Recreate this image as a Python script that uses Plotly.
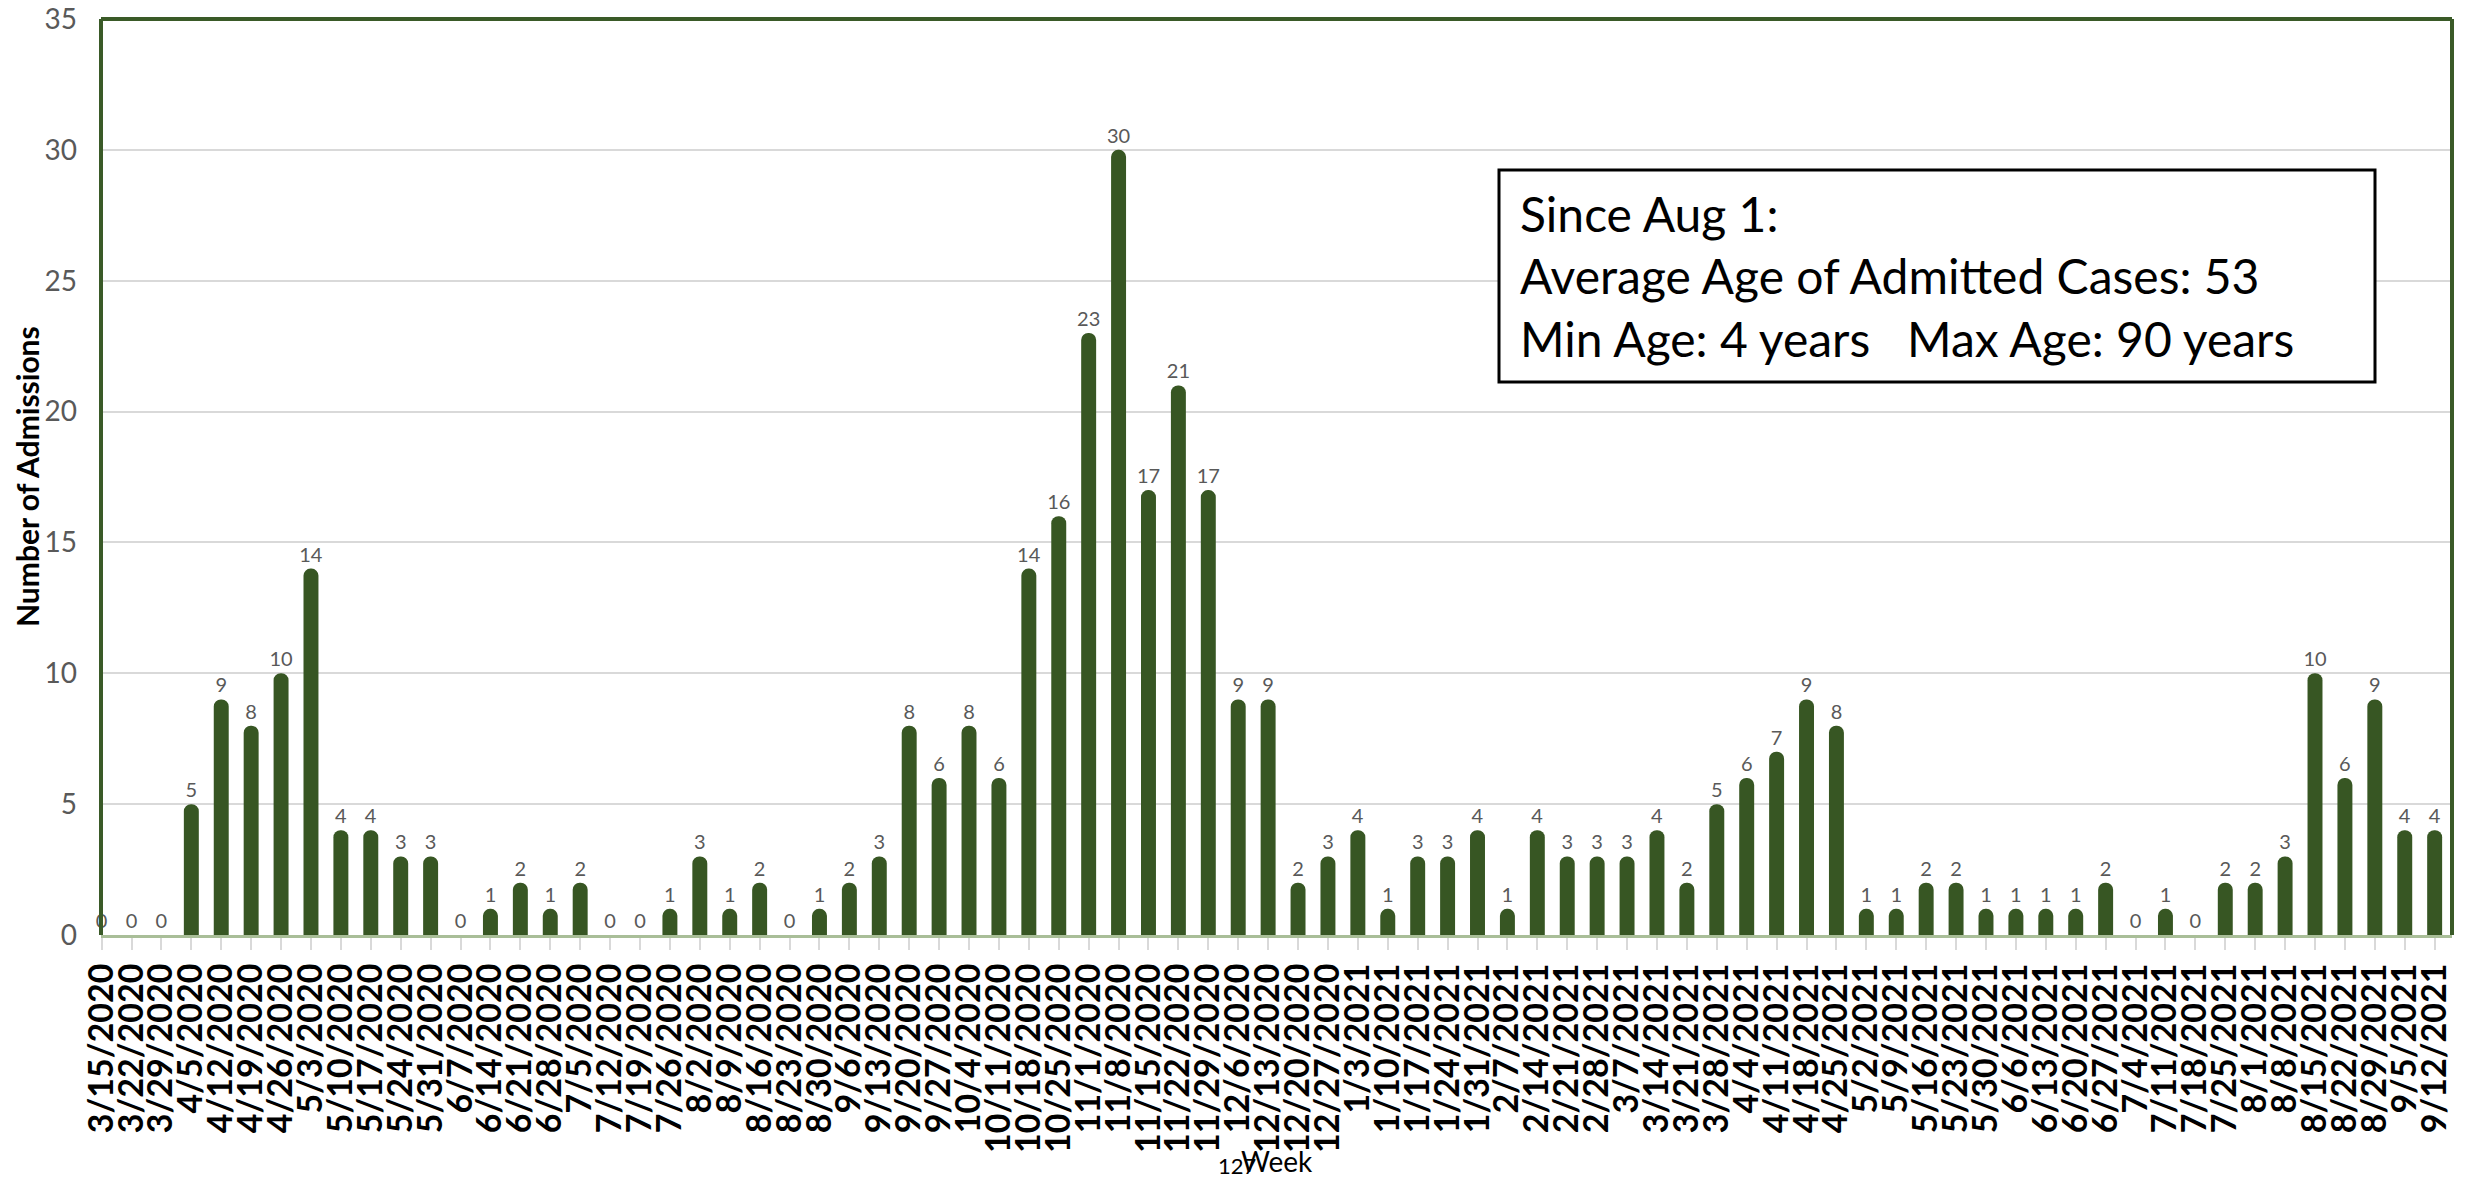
import plotly.graph_objects as go

weeks = ["3/15/2020", "3/22/2020", "3/29/2020", "4/5/2020", "4/12/2020", "4/19/2020", "4/26/2020",
         "5/3/2020", "5/10/2020", "5/17/2020", "5/24/2020", "5/31/2020", "6/7/2020", "6/14/2020",
         "6/21/2020", "6/28/2020", "7/5/2020", "7/12/2020", "7/19/2020", "7/26/2020", "8/2/2020",
         "8/9/2020", "8/16/2020", "8/23/2020", "8/30/2020", "9/6/2020", "9/13/2020", "9/20/2020",
         "9/27/2020", "10/4/2020", "10/11/2020", "10/18/2020", "10/25/2020", "11/1/2020", "11/8/2020",
         "11/15/2020", "11/22/2020", "11/29/2020", "12/6/2020", "12/13/2020", "12/20/2020", "12/27/2020",
         "1/3/2021", "1/10/2021", "1/17/2021", "1/24/2021", "1/31/2021", "2/7/2021", "2/14/2021",
         "2/21/2021", "2/28/2021", "3/7/2021", "3/14/2021", "3/21/2021", "3/28/2021", "4/4/2021",
         "4/11/2021", "4/18/2021", "4/25/2021", "5/2/2021", "5/9/2021", "5/16/2021", "5/23/2021",
         "5/30/2021", "6/6/2021", "6/13/2021", "6/20/2021", "6/27/2021", "7/4/2021", "7/11/2021",
         "7/18/2021", "7/25/2021", "8/1/2021", "8/8/2021", "8/15/2021", "8/22/2021", "8/29/2021",
         "9/5/2021", "9/12/2021"]

admissions = [0, 0, 0, 5, 9, 8, 10,
              14, 4, 4, 3, 3, 0, 1,
              2, 1, 2, 0, 0, 1, 3,
              1, 2, 0, 1, 2, 3, 8,
              6, 8, 6, 14, 16, 23, 30,
              17, 21, 17, 9, 9, 2, 3,
              4, 1, 3, 3, 4, 1, 4,
              3, 3, 3, 4, 2, 5, 6,
              7, 9, 8, 1, 1, 2, 2,
              1, 1, 1, 1, 2, 0, 1,
              0, 2, 2, 3, 10, 6, 9,
              4, 4]

y_ticks = [0, 5, 10, 15, 20, 25, 30, 35]
box_lines = ["Since Aug 1:", "Average Age of Admitted Cases: 53", "Min Age: 4 years   Max Age: 90 years"]

# page coordinates of the plot area (the page body adds an 8 px margin)
OFF = 8
W, H = 2466 - 2 * OFF, 1186 - 2 * OFF
L, R, T, B = 101, 2452, 19, 935

def px(xp):
    return (xp - L) / (R - L)

def py(yp):
    return (B - yp) / (B - T)

BAR = "#375623"
FRAME = "#3A5A28"
FONT = "Lato"

fig = go.Figure()
fig.add_trace(go.Bar(
    x=weeks, y=admissions,
    width=0.5,
    marker=dict(color=BAR, line=dict(width=0), cornerradius=7),
    text=[str(v) for v in admissions],
    textposition="outside",
    constraintext="none",
    textfont=dict(family=FONT, size=20, color="#595959"),
    cliponaxis=False,
    hoverinfo="x+y",
))

fig.update_layout(
    width=W, height=H,
    margin=dict(l=L - OFF, r=W - (R - OFF), t=T - OFF, b=H - (B - OFF), autoexpand=False),
    plot_bgcolor="white", paper_bgcolor="white",
    showlegend=False,
    bargap=0.5,
    font=dict(family=FONT),
)

fig.update_xaxes(
    type="category",
    range=[-0.02, 78.58],
    tickmode="linear", tick0=0, dtick=1,
    tickangle=-90,
    tickfont=dict(family=FONT, size=34, color="black", weight="bold"),
    ticks="outside", ticklen=12, tickwidth=2, tickcolor="#D9D9D9",
    showline=True, linecolor="#A9BE98", linewidth=3,
    showgrid=False, zeroline=False, automargin=False,
    ticklabeloverflow="allow",
)

fig.update_yaxes(
    range=[0, 35],
    tickmode="array", tickvals=y_ticks,
    tickfont=dict(family=FONT, size=28, color="#595959"),
    ticklabelstandoff=23,
    ticklabeloverflow="allow",
    showgrid=True, gridcolor="#D9D9D9", gridwidth=2,
    zeroline=False, showline=False, ticks="", automargin=False,
)

# frame (left, top, right) in dark green
for x0, y0, x1, y1 in [(0, 0, 0, 1), (0, 1, 1, 1), (1, 0, 1, 1)]:
    fig.add_shape(type="line", xref="paper", yref="paper", x0=x0, y0=y0, x1=x1, y1=y1,
                  line=dict(color=FRAME, width=4), layer="above")

# info box
fig.add_shape(type="rect", xref="paper", yref="paper",
              x0=px(1499), x1=px(2375), y0=py(382), y1=py(170),
              line=dict(color="black", width=3), fillcolor="white", layer="above")
fig.add_annotation(
    xref="paper", yref="paper", x=px(1518), y=py(276),
    xanchor="left", yanchor="middle", align="left",
    text="<br>".join(box_lines), showarrow=False,
    font=dict(family=FONT, size=48, color="black"),
)

# axis titles
fig.add_annotation(
    xref="paper", yref="paper", x=px(27), y=py(477),
    xanchor="center", yanchor="middle", textangle=-90,
    text="Number of Admissions", showarrow=False,
    font=dict(family=FONT, size=30, color="black", weight="bold"),
)
fig.add_annotation(
    xref="paper", yref="paper", x=px(1237), y=py(1165),
    xanchor="center", yanchor="middle",
    text="127", showarrow=False,
    font=dict(family=FONT, size=22, color="black"),
)
fig.add_annotation(
    xref="paper", yref="paper", x=px(1277), y=py(1161),
    xanchor="center", yanchor="middle",
    text="Week", showarrow=False,
    font=dict(family=FONT, size=28, color="black"),
)

fig.write_html("out.html")
